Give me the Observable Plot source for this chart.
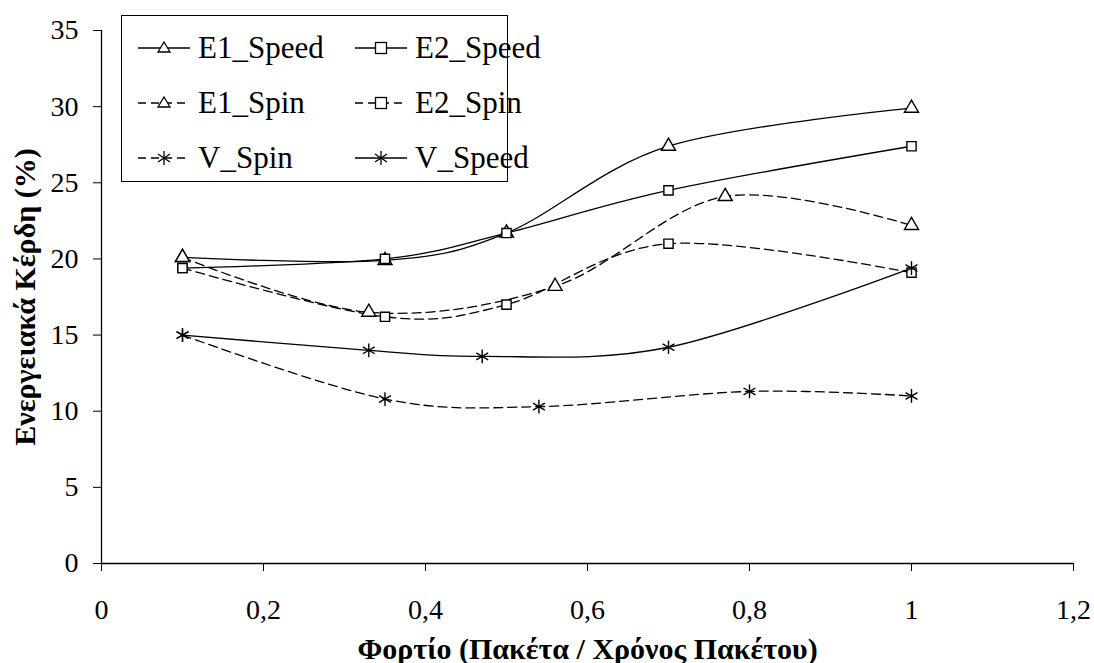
<!DOCTYPE html>
<html>
<head>
<meta charset="utf-8">
<script src="https://cdn.jsdelivr.net/npm/d3@7"></script>
<script src="https://cdn.jsdelivr.net/npm/@observablehq/plot@0.6"></script>
<style>
  html, body { margin: 0; padding: 0; background: #fff; }
  #wrap { position: relative; width: 1094px; height: 663px; overflow: hidden; }
  #wrap svg, #wrap svg text { font-family: 'Liberation Serif', 'Times New Roman', serif !important; }
  g[aria-label="y-axis label"] text, g[aria-label="x-axis label"] text { font-weight: bold; font-size: 30px; }
  #legend {
    position: absolute; left: 121px; top: 15px; width: 387px; height: 167px;
    border: 1px solid #000; background: #fff; box-sizing: border-box;
    font-family: 'Liberation Serif', 'Times New Roman', serif; font-size: 31px;
  }
  #legend .item { position: absolute; display: flex; align-items: center; height: 32px; }
  #legend .item span { margin-left: 6px; line-height: 32px; }
</style>
</head>
<body>
<div id="wrap"></div>
<script>
// ---- data ----
const seriesNames = ["E1_Speed", "E2_Speed", "E1_Spin", "E2_Spin", "V_Spin", "V_Speed"];
const seriesSymbols = ["triangle", "square", "triangle", "square", "asterisk", "asterisk"];
const seriesDashed = [false, false, true, true, true, false];

const e1SpeedX = [0.1, 0.35, 0.5, 0.7, 1.0];
const e1SpeedY = [20.1, 19.9, 21.7, 27.4, 29.9];
const e2SpeedX = [0.1, 0.35, 0.5, 0.7, 1.0];
const e2SpeedY = [19.4, 20.0, 21.7, 24.5, 27.4];
const e1SpinX = [0.1, 0.33, 0.56, 0.77, 1.0];
const e1SpinY = [20.1, 16.5, 18.2, 24.1, 22.2];
const e2SpinX = [0.1, 0.35, 0.5, 0.7, 1.0];
const e2SpinY = [19.4, 16.2, 17.0, 21.0, 19.1];
const vSpinX = [0.1, 0.35, 0.54, 0.8, 1.0];
const vSpinY = [15.0, 10.8, 10.3, 11.3, 11.0];
const vSpeedX = [0.1, 0.33, 0.47, 0.7, 1.0];
const vSpeedY = [15.0, 14.0, 13.6, 14.2, 19.4];

const xTicks = [0, 0.2, 0.4, 0.6, 0.8, 1, 1.2];
const yTicks = [0, 5, 10, 15, 20, 25, 30, 35];
const xTitle = "Φορτίο (Πακέτα / Χρόνος Πακέτου)";
const yTitle = "Ενεργειακά Κέρδη (%)";

const seriesXY = {
  "E1_Speed": [e1SpeedX, e1SpeedY],
  "E2_Speed": [e2SpeedX, e2SpeedY],
  "E1_Spin": [e1SpinX, e1SpinY],
  "E2_Spin": [e2SpinX, e2SpinY],
  "V_Spin": [vSpinX, vSpinY],
  "V_Speed": [vSpeedX, vSpeedY]
};

const rows = [];
seriesNames.forEach((name, i) => {
  const [xs, ys] = seriesXY[name];
  xs.forEach((x, j) => rows.push({series: name, x, y: ys[j]}));
});

const comma = d => String(d).replace(".", ",");
const DASH = "9,5";

const marks = [];
seriesNames.forEach((name, i) => {
  const data = rows.filter(r => r.series === name);
  marks.push(Plot.line(data, {
    x: "x", y: "y", curve: "cardinal", tension: 0,
    stroke: "#000", strokeWidth: 1.3,
    strokeDasharray: seriesDashed[i] ? DASH : null
  }));
});
seriesNames.forEach((name, i) => {
  const data = rows.filter(r => r.series === name);
  marks.push(Plot.dot(data, {
    x: "x", y: "y", symbol: () => seriesSymbols[i], r: seriesSymbols[i] === "asterisk" ? 6.5 : 5.2,
    stroke: "#000", strokeWidth: 1.4, fill: seriesSymbols[i] === "asterisk" ? "none" : "#fff"
  }));
});

const chart = Plot.plot({
  width: 1094, height: 663,
  marginLeft: 101, marginRight: 21, marginTop: 30, marginBottom: 100,
  style: {fontFamily: "'Liberation Serif', 'Times New Roman', serif", fontSize: "28px", background: "#fff", color: "#000"},
  symbol: {type: "identity"},
  x: {domain: [0, 1.2], ticks: xTicks, tickFormat: comma, tickSize: 8, tickPadding: 28,
      label: xTitle, labelAnchor: "center", labelArrow: "none", labelOffset: 95},
  y: {domain: [0, 35], ticks: yTicks, tickFormat: comma, tickSize: 8, tickPadding: 15,
      label: yTitle, labelAnchor: "center", labelArrow: "none", labelOffset: 88},
  marks: [
    Plot.ruleY([0], {stroke: "#000", strokeWidth: 1.3}),
    Plot.ruleX([0], {stroke: "#000", strokeWidth: 1.3}),
    ...marks
  ]
});
document.getElementById("wrap").appendChild(chart);

// ---- legend (HTML overlay) ----
const legend = document.createElement("div");
legend.id = "legend";
const colLeft = [16, 233];
const rowTop = [16, 71, 126];
seriesNames.forEach((name, i) => {
  const col = i % 2, row = Math.floor(i / 2);
  const item = document.createElement("div");
  item.className = "item";
  item.style.left = colLeft[col] + "px";
  item.style.top = rowTop[row] + "px";
  const sym = seriesSymbols[i];
  let glyph;
  if (sym === "triangle") glyph = `<path d="M26,10 L32,20 L20,20 Z" fill="#fff" stroke="#000" stroke-width="1.3"/>`;
  else if (sym === "square") glyph = `<rect x="20.5" y="10.5" width="11" height="11" fill="#fff" stroke="#000" stroke-width="1.3"/>`;
  else glyph = `<path d="M26,9 V23 M20,12 L32,20 M32,12 L20,20" stroke="#000" stroke-width="1.3"/>`;
  const dash = seriesDashed[i] ? `stroke-dasharray="8,5"` : "";
  item.innerHTML = `<svg width="54" height="32"><line x1="0" y1="16" x2="52" y2="16" stroke="#000" stroke-width="1.3" ${dash}/>${glyph}</svg><span>${name}</span>`;
  legend.appendChild(item);
});
document.getElementById("wrap").appendChild(legend);
</script>
</body>
</html>
